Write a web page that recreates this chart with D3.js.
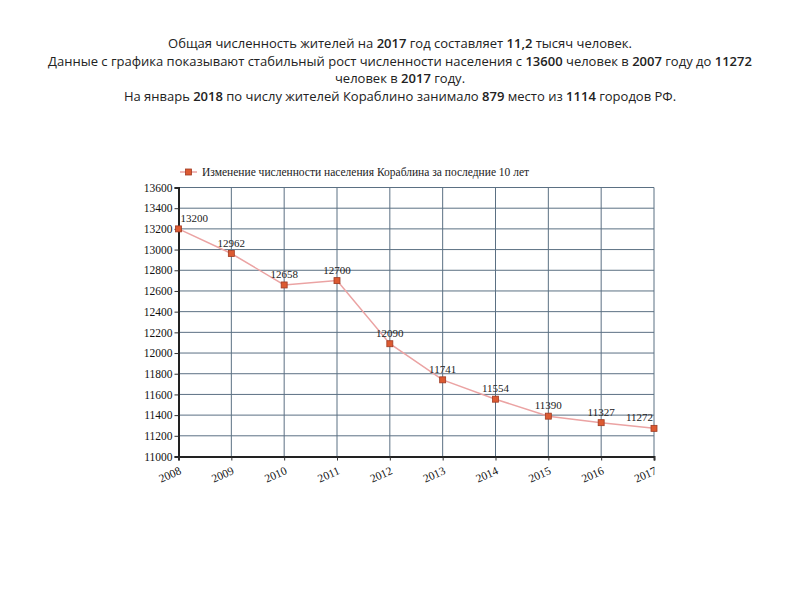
<!DOCTYPE html>
<html>
<head>
<meta charset="utf-8">
<script src="https://cdn.jsdelivr.net/npm/d3@7"></script>
<style>
  body { margin: 0; background: #fff; }
  svg { display: block; }
</style>
</head>
<body>
<svg width="800" height="600"></svg>
<script>
// data
const years = [2008, 2009, 2010, 2011, 2012, 2013, 2014, 2015, 2016, 2017];
const population = [13200, 12962, 12658, 12700, 12090, 11741, 11554, 11390, 11327, 11272];
const yTicks = [11000, 11200, 11400, 11600, 11800, 12000, 12200, 12400, 12600, 12800, 13000, 13200, 13400, 13600];
const legendLabel = "Изменение численности населения Кораблина за последние 10 лет";

// header lines, bold parts are the numbers
const headerLines = [
  [["Общая численность жителей на ", 0], ["2017", 1], [" год составляет ", 0], ["11,2", 1], [" тысяч человек.", 0]],
  [["Данные с графика показывают стабильный рост численности населения с ", 0], ["13600", 1], [" человек в ", 0], ["2007", 1], [" году до ", 0], ["11272", 1]],
  [["человек в ", 0], ["2017", 1], [" году.", 0]],
  [["На январь ", 0], ["2018", 1], [" по числу жителей Кораблино занимало ", 0], ["879", 1], [" место из ", 0], ["1114", 1], [" городов РФ.", 0]]
];

const svg = d3.select("svg");
const plotL = 178.5, plotR = 654, plotT = 187.5, plotB = 456.5;
const serif = "'Liberation Serif', 'DejaVu Serif', serif";

// header text
const header = svg.append("g")
    .attr("font-family", "'Open Sans', 'Liberation Sans', sans-serif")
    .attr("font-size", 13)
    .attr("fill", "#222");
headerLines.forEach((line, i) => {
    const t = header.append("text")
        .attr("x", 400)
        .attr("y", 48 + i * 17.5)
        .attr("text-anchor", "middle");
    line.forEach(p => {
        t.append("tspan").text(p[0]).attr("font-weight", p[1] ? 600 : 400);
    });
});

const x = d3.scalePoint().domain(years).range([plotL, plotR]);
const y = d3.scaleLinear().domain([11000, 13600]).range([plotB, plotT]);

// grid
const grid = svg.append("g").attr("stroke", "#5b7083").attr("stroke-width", 1);
grid.selectAll("line.h").data(yTicks).enter().append("line")
    .attr("x1", plotL).attr("x2", plotR)
    .attr("y1", d => y(d)).attr("y2", d => y(d));
grid.selectAll("line.v").data(years).enter().append("line")
    .attr("y1", plotT).attr("y2", plotB)
    .attr("x1", d => x(d)).attr("x2", d => x(d));

// axes
const yAxis = svg.append("g")
    .attr("transform", `translate(${plotL},0)`)
    .call(d3.axisLeft(y).tickValues(yTicks).tickSize(4).tickPadding(2).tickFormat(d3.format("d")));
const xAxis = svg.append("g")
    .attr("transform", `translate(0,${plotB})`)
    .call(d3.axisBottom(x).tickSize(4).tickFormat(d3.format("d")));
[yAxis, xAxis].forEach(a => {
    a.select(".domain").attr("stroke", "#222").attr("stroke-width", 2);
    a.selectAll(".tick line").attr("stroke", "#333");
    a.selectAll("text").attr("font-family", serif).attr("font-size", 11.5).attr("fill", "#111");
});
xAxis.selectAll("text")
    .attr("text-anchor", "end")
    .attr("dy", null)
    .attr("y", 0)
    .attr("transform", "translate(3,17) rotate(-24)");

// line + markers
const line = d3.line().x((d, i) => x(years[i])).y(d => y(d));
svg.append("path")
    .datum(population)
    .attr("d", line)
    .attr("fill", "none")
    .attr("stroke", "#eba3a3")
    .attr("stroke-width", 1.5);
svg.selectAll("rect.pt").data(population).enter().append("rect")
    .attr("x", (d, i) => x(years[i]) - 3)
    .attr("y", d => y(d) - 3)
    .attr("width", 6).attr("height", 6)
    .attr("fill", "#dc5a32")
    .attr("stroke", "#9e3a22")
    .attr("stroke-width", 0.8);

// value labels
svg.selectAll("text.val").data(population).enter().append("text")
    .attr("x", (d, i) => x(years[i]) + (i === 0 ? 2 : i === years.length - 1 ? -1 : 0))
    .attr("y", d => y(d) - 7)
    .attr("text-anchor", (d, i) => i === 0 ? "start" : i === years.length - 1 ? "end" : "middle")
    .attr("font-family", serif)
    .attr("font-size", 11)
    .attr("fill", "#222")
    .text(d => d);

// legend
const lg = svg.append("g").attr("transform", "translate(180,172)");
lg.append("line").attr("x1", 0).attr("x2", 17).attr("stroke", "#eba3a3").attr("stroke-width", 1.5);
lg.append("rect").attr("x", 5.5).attr("y", -3).attr("width", 6).attr("height", 6)
    .attr("fill", "#dc5a32").attr("stroke", "#9e3a22").attr("stroke-width", 0.8);
lg.append("text").attr("x", 22).attr("y", 4)
    .attr("font-family", serif).attr("font-size", 11.5).attr("fill", "#222")
    .text(legendLabel);
</script>
</body>
</html>
